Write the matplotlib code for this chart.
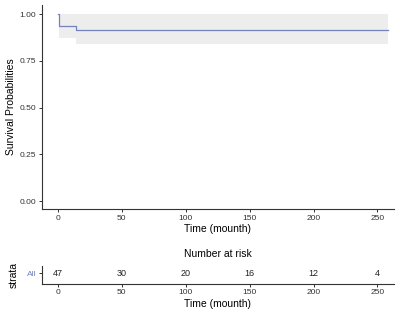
import numpy as np
import matplotlib
matplotlib.use("Agg")
import matplotlib.pyplot as plt

plt.rcParams['font.family'] = ['Liberation Sans', 'DejaVu Sans']

# survival curve (step)
time = [0, 1, 14, 258]
surv = [1.0, 0.936, 0.915, 0.915]
ci_low = [1.0, 0.872, 0.838, 0.838]
ci_high = [1.0, 0.998, 0.998, 0.998]

# number at risk table
risk_times = [0, 50, 100, 150, 200, 250]
risk_n = [47, 30, 20, 16, 12, 4]
xticks = [0, 50, 100, 150, 200, 250]
yticks = [0.00, 0.25, 0.50, 0.75, 1.00]

fig = plt.figure(figsize=(4, 3.12), dpi=100)
ax = fig.add_axes([0.105, 0.33, 0.88, 0.655])
ax2 = fig.add_axes([0.105, 0.09, 0.88, 0.058])

line_col = '#7282bd'
ax.fill_between(time, ci_low, ci_high, step='post', color='#ededed', lw=0)
ax.step(time, surv, where='post', color=line_col, lw=0.9)
ax.set_xlim(-12.5, 263)
ax.set_ylim(-0.043, 1.05)
ax.set_xticks(xticks)
ax.set_yticks(yticks)
ax.set_yticklabels(['%.2f' % v for v in yticks])
ax.set_xlabel('Time (mounth)', fontsize=7.5, labelpad=2)
ax.set_ylabel('Survival Probabilities', fontsize=7.5, labelpad=3)

for a in (ax, ax2):
    for s in ('top', 'right'):
        a.spines[s].set_visible(False)
    for s in ('left', 'bottom'):
        a.spines[s].set_color('#333333')
        a.spines[s].set_linewidth(0.8)
    a.tick_params(labelsize=6, length=2, width=0.7, color='#333333', pad=2,
                  labelcolor='#333333')

for t, n in zip(risk_times, risk_n):
    ax2.text(t, 0, str(n), ha='center', va='center', fontsize=6.5, color='#222222')
ax2.set_xlim(-12.5, 263)
ax2.set_ylim(-0.7, 0.5)
ax2.set_xticks(xticks)
ax2.set_yticks([0])
ax2.set_yticklabels(['All'], color=line_col)
ax2.set_xlabel('Time (mounth)', fontsize=7.5, labelpad=2)
ax2.set_ylabel('strata', fontsize=7.5, labelpad=6)
ax2.set_title('Number at risk', fontsize=7.5, pad=6)

fig.savefig('out.png', dpi=100)
